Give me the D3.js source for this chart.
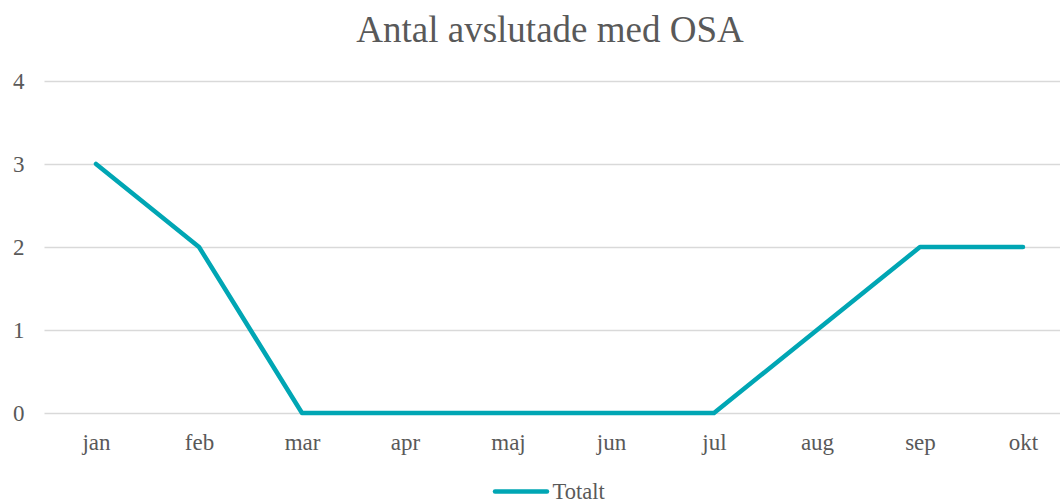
<!DOCTYPE html>
<html><head><meta charset="utf-8">
<script src="https://cdn.jsdelivr.net/npm/d3@7"></script>
<style>body{margin:0;background:#fff;overflow:hidden}svg{display:block}</style>
</head><body>
<svg id="c" width="1060" height="502"></svg>
<script>
const categories = ["jan","feb","mar","apr","maj","jun","jul","aug","sep","okt"];
const values = [3,2,0,0,0,0,0,1,2,2];
const yTicks = [0,1,2,3,4];
const title = "Antal avslutade med OSA";
const seriesName = "Totalt";

const svg = d3.select("#c");
const font = "'Liberation Serif','Times New Roman',serif";
const txt = "#595959";
const x = d3.scalePoint().domain(categories).range([96,1023]);
const y = d3.scaleLinear().domain([0,4]).range([413,81]);
const left = 44.5, right = 1075;

svg.append("text").attr("x",550).attr("y",42).attr("text-anchor","middle")
  .attr("font-family",font).attr("font-size",37).attr("fill",txt).text(title);

const yAxis = d3.axisLeft(y).tickValues(yTicks).tickSize(-(right-left)).tickFormat(d3.format("d"));
const gy = svg.append("g").attr("transform",`translate(${left},0)`).call(yAxis);
gy.select(".domain").remove();
gy.selectAll(".tick line").attr("stroke","#d9d9d9").attr("stroke-width",1.5);
gy.selectAll(".tick text").attr("font-family",font).attr("font-size",23).attr("fill",txt)
  .attr("x",24.5-left).attr("dy","0.33em");

const xAxis = d3.axisBottom(x).tickSize(0).tickPadding(0);
const gx = svg.append("g").attr("transform",`translate(0,${y(0)})`).call(xAxis);
gx.select(".domain").remove();
gx.selectAll(".tick text").attr("font-family",font).attr("font-size",23).attr("fill",txt)
  .attr("y",450-413).attr("dy",0);

const line = d3.line().x((d,i)=>x(categories[i])).y(d=>y(d));
svg.append("path").datum(values).attr("d",line).attr("fill","none")
  .attr("stroke","#00A6B4").attr("stroke-width",4.5).attr("stroke-linejoin","round").attr("stroke-linecap","round");

const lg = svg.append("g");
lg.append("line").attr("x1",495).attr("x2",547).attr("y1",491.5).attr("y2",491.5)
  .attr("stroke","#00A6B4").attr("stroke-width",4.5).attr("stroke-linecap","round");
lg.append("text").attr("x",552.5).attr("y",498.5).attr("font-family",font).attr("font-size",22.5).attr("fill",txt).text(seriesName);
</script>
</body></html>
